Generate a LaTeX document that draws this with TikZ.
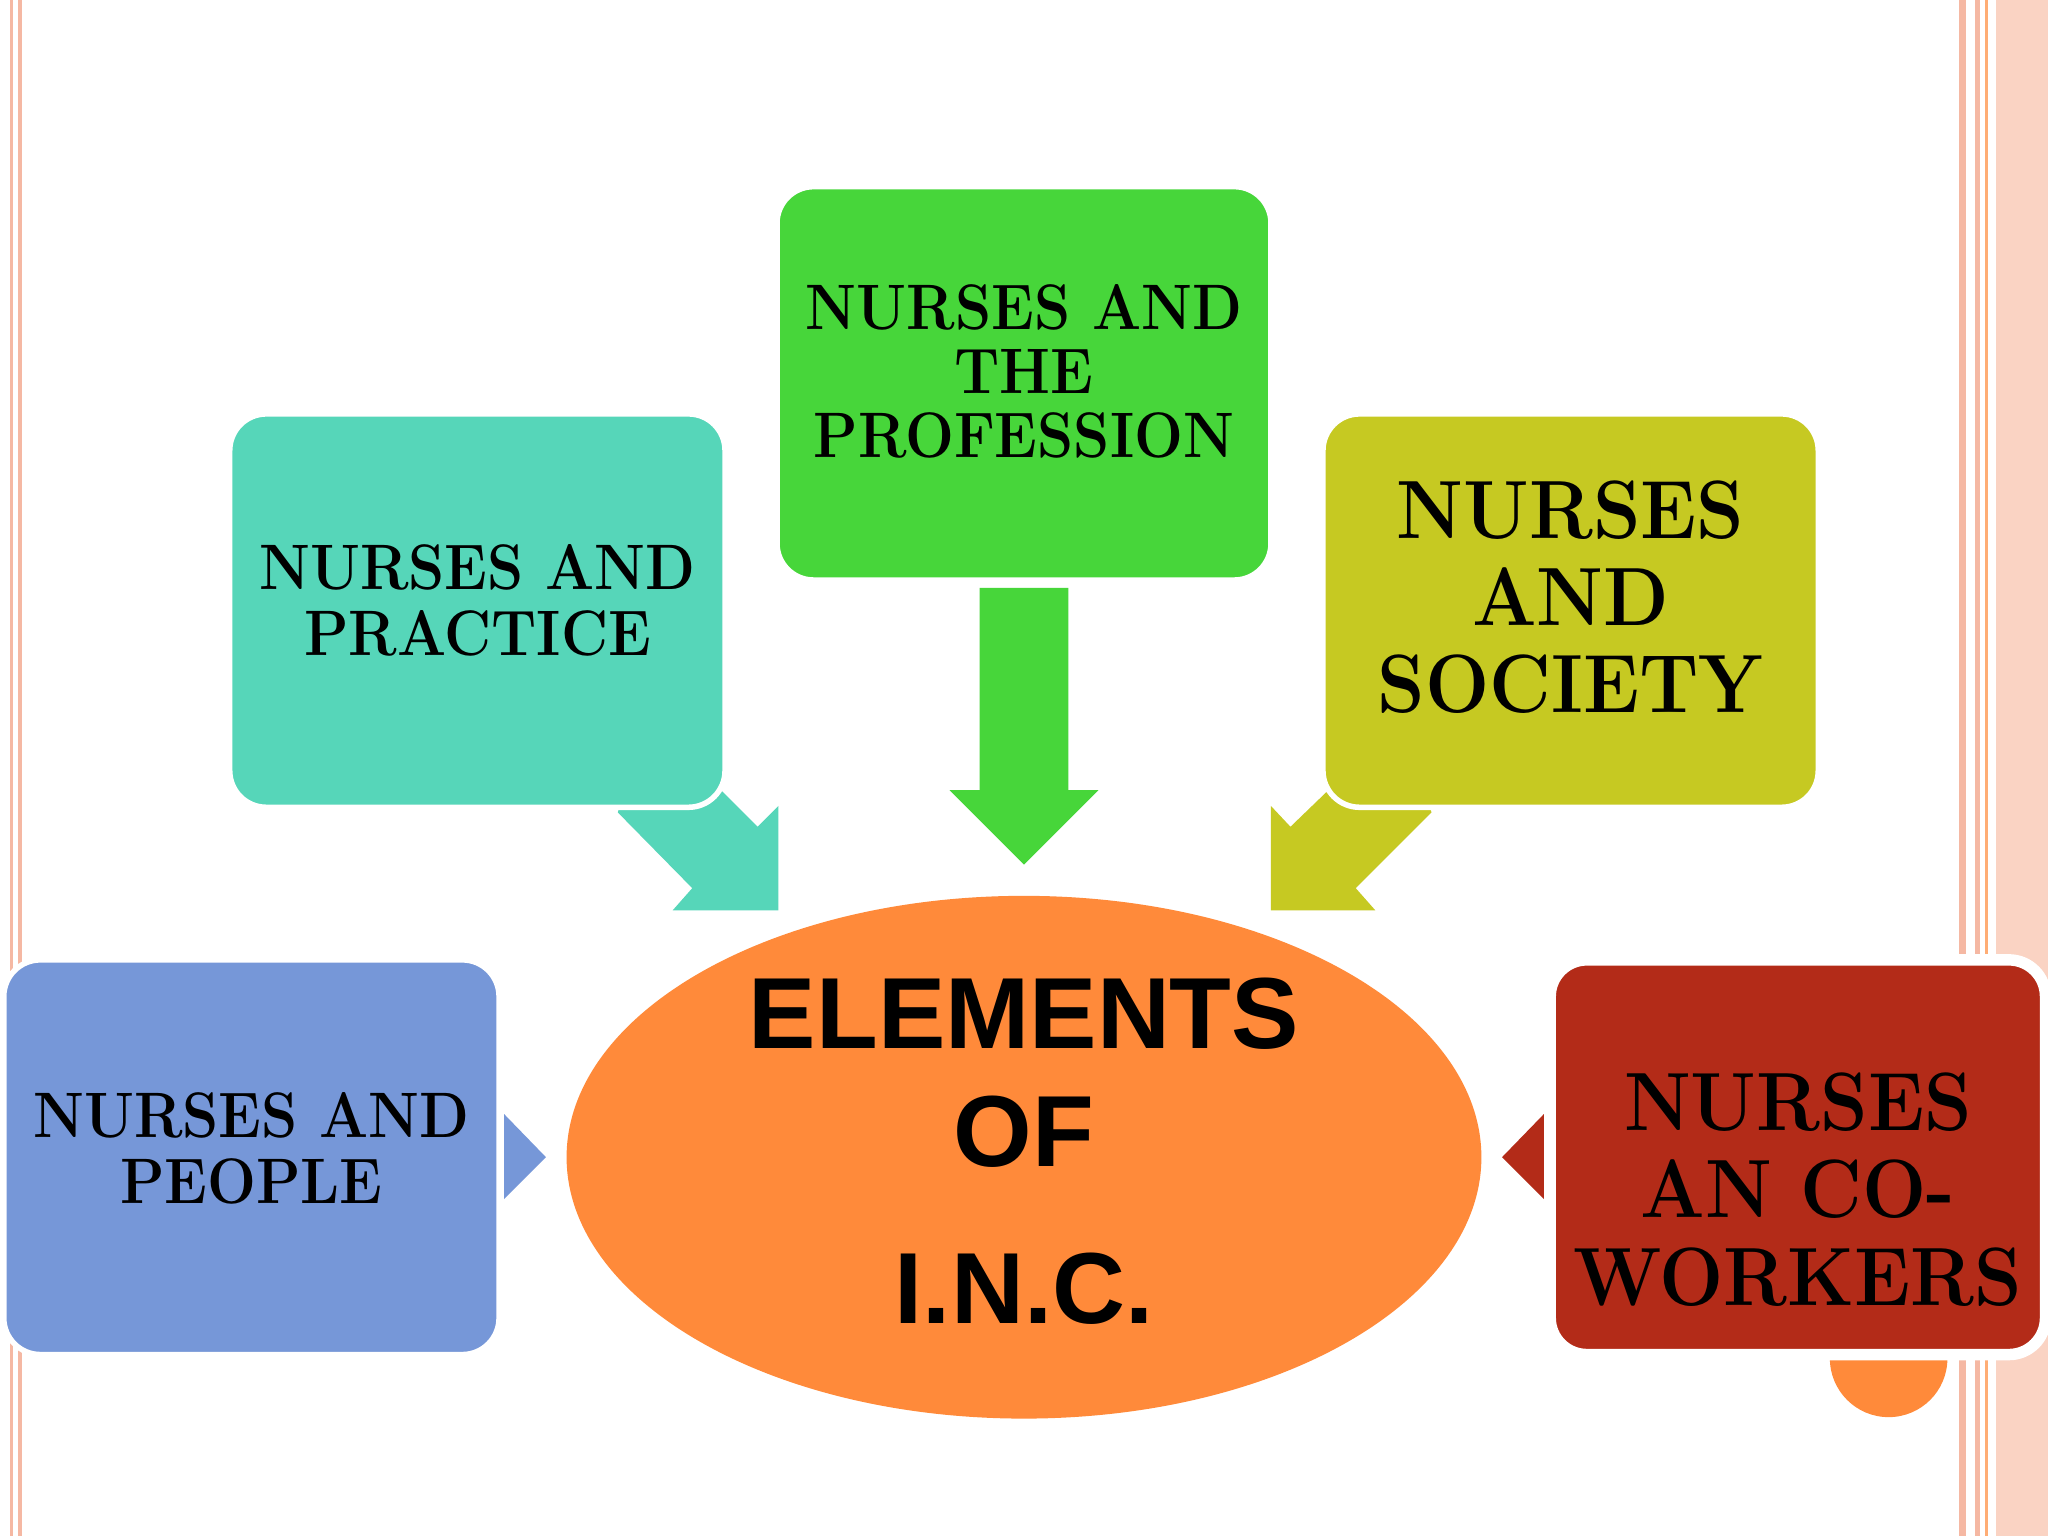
\documentclass[tikz,border=0pt]{standalone}
\usepackage{fontspec}
\usetikzlibrary{shapes.geometric}
\newfontfamily\sansb{Liberation Sans}
\definecolor{teal1}{HTML}{56D6B9}
\definecolor{green1}{HTML}{47D63A}
\definecolor{olive1}{HTML}{C6C922}
\definecolor{blue1}{HTML}{7697D8}
\definecolor{red1}{HTML}{B32B18}
\definecolor{orange1}{HTML}{FF8A3A}
\definecolor{pale}{HTML}{FAD3C3}
\definecolor{salmon}{HTML}{F5B8A3}
\newcommand{\sq}[2]{\scalebox{#1}[1]{\begin{tabular}{@{}c@{}}#2\end{tabular}}}
\begin{document}
\begin{tikzpicture}[x=0.01cm,y=-0.01cm,
  box/.style={rounded corners=0.28cm, draw=white, line width=1.2pt, align=center, inner sep=0pt},
  lbl/.style={align=center, text=black, inner sep=0pt}]
\useasboundingbox (0,0) rectangle (1568,1176);
\fill[white] (0,0) rectangle (1568,1176);
% borders
\fill[salmon] (8,0) rectangle (10,1176);
\fill[salmon] (14,0) rectangle (17,1176);
\fill[salmon] (1500,0) rectangle (1505,1176);
\fill[salmon] (1512,0) rectangle (1516,1176);
\fill[orange1!70] (1520,0) rectangle (1522,1176);
\fill[pale] (1528,0) rectangle (1568,1176);
% arrows
\fill[green1] (750,450) -- (818,450) -- (818,605) -- (841,605) -- (784,662) -- (727,605) -- (750,605) -- cycle;
\fill[teal1] (473,622) -- (530,680) -- (515,697) -- (596,697) -- (596,617) -- (580,633) -- (553,606) -- (520,580) -- (480,600) -- cycle;
\fill[olive1] (1096,622) -- (1038,680) -- (1053,697) -- (973,697) -- (973,617) -- (988,633) -- (1016,606) -- (1048,580) -- (1088,600) -- cycle;
\fill[blue1] (386,853) -- (418,886) -- (386,918) -- cycle;
\fill[red1] (1182,853) -- (1150,886) -- (1182,918) -- cycle;
% center
\fill[orange1] (1446,1040) circle (45);
\node[ellipse, fill=orange1, minimum width=7cm, minimum height=4cm, inner sep=0pt] (c) at (784,886) {};
\node[lbl, anchor=base, font=\sansb\bfseries\fontsize{22}{26}\selectfont] (c1) at (784,803) {ELEMENTS};
\node[lbl, anchor=base, font=\sansb\bfseries\fontsize{22}{26}\selectfont] (c2) at (784,893) {OF};
\node[lbl, anchor=base, font=\sansb\bfseries\fontsize{22}{26}\selectfont] (c3) at (784,1013) {I.N.C.};
% boxes
\node[box, fill=teal1, minimum width=3.79cm, minimum height=3.01cm] (pr) at (365.5,467.5) {};
\node[lbl, font=\bfseries\fontsize{14}{14.5}\selectfont] (prt) at ([yshift=0.01cm]pr.center) {\sq{0.9}{NURSES AND\\PRACTICE}};
\node[box, fill=green1, minimum width=3.78cm, minimum height=3.01cm] (pf) at (784,293.5) {};
\node[lbl, font=\bfseries\fontsize{14}{14}\selectfont] (pft) at ([yshift=0.02cm]pf.center) {\sq{0.9}{NURSES AND\\THE\\PROFESSION}};
\node[box, fill=olive1, minimum width=3.79cm, minimum height=3.01cm] (so) at (1202.5,467.5) {};
\node[lbl, font=\bfseries\fontsize{18}{19}\selectfont] (sot) at ([yshift=0.02cm]so.center) {\sq{0.92}{NURSES\\AND\\SOCIETY}};
\node[box, fill=blue1, minimum width=3.79cm, minimum height=3.02cm] (pe) at (192.5,886) {};
\node[lbl, font=\bfseries\fontsize{14}{14.5}\selectfont] (pet) at ([yshift=0.0cm]pe.center) {\sq{0.9}{NURSES AND\\PEOPLE}};
\node[box, fill=red1, minimum width=3.79cm, minimum height=3.02cm, line width=2.5pt] (cw) at (1376.5,886) {};
\node[lbl, font=\bfseries\fontsize{18}{19}\selectfont] (cwt) at ([yshift=-0.33cm]cw.center) {\sq{0.92}{NURSES\\AN CO-\\WORKERS}};
\end{tikzpicture}
\end{document}
